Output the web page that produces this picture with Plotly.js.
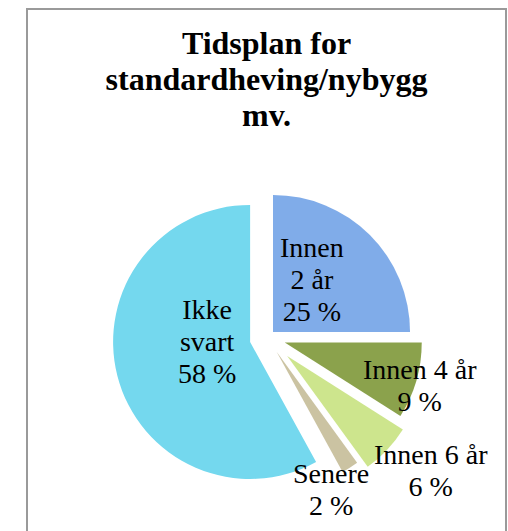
<!DOCTYPE html>
<html>
<head>
<meta charset="utf-8">
<script src="https://cdn.plot.ly/plotly-3.0.1.min.js"></script>
<style>html,body{margin:0;padding:0;background:#fff;}#chart{width:508px;height:531px;}</style>
</head>
<body>
<div id="chart"></div>
<script>
// Data
const categories = ["Innen 2 år", "Innen 4 år", "Innen 6 år", "Senere", "Ikke svart"];
const values = [25, 9, 6, 2, 58];
const labelLines = [["Innen", "2 år"], ["Innen 4 år"], ["Innen 6 år"], ["Senere"], ["Ikke", "svart"]];
const titleLines = ["Tidsplan for", "standardheving/nybygg", "mv."];

// Styles
const colors = ["#80ace9", "#8ba24c", "#cde58d", "#cbc3a2", "#74d8ee"];
const pulls = [0.057, 0.131, 0.197, 0.124, 0.131];
const labelPos = [[312, 279], [420, 385], [431, 470], [331, 489], [207, 341]]; // px centers
const W = 508, H = 531;

const annotations = categories.map((c, i) => {
  const lines = labelLines[i].concat([values[i] + " %"]);
  return {
    xref: "paper", yref: "paper",
    x: labelPos[i][0] / W, y: 1 - labelPos[i][1] / H,
    xanchor: "center", yanchor: "middle",
    showarrow: false, align: "center",
    text: lines.map(l => '<span style="font-size:28px">' + l + '</span>').join("<br>"),
    font: {family: "Liberation Serif, Times New Roman, serif", size: 24.6, color: "#000"}
  };
});

const data = [{
  type: "pie",
  labels: categories,
  values: values,
  sort: false,
  direction: "clockwise",
  rotation: 0,
  pull: pulls,
  marker: {colors: colors, line: {width: 0}},
  textinfo: "none",
  hoverinfo: "label+percent",
  showlegend: false,
  domain: {x: [103.5 / W, 431.5 / W], y: [(193.5 - 164) / H, (193.5 + 164) / H]}
}];

const layout = {
  width: W, height: H,
  margin: {l: 0, r: 0, t: 0, b: 0},
  paper_bgcolor: "#fff",
  title: {
    text: titleLines.map(l => '<span style="font-size:32px">' + l + '</span>').join("<br>"),
    font: {family: "Liberation Serif, Times New Roman, serif", size: 27.5, color: "#000", weight: "bold"},
    x: 266.5 / W, xref: "paper", xanchor: "center",
    y: 1 - 54 / H, yref: "paper", yanchor: "top"
  },
  annotations: annotations,
  shapes: [{
    type: "rect", xref: "paper", yref: "paper",
    x0: 27 / W, x1: 506 / W, y0: -0.2, y1: 1 - 9 / H,
    line: {color: "#9a9a9a", width: 2}, fillcolor: "rgba(0,0,0,0)", layer: "above"
  }]
};

Plotly.newPlot("chart", data, layout, {displayModeBar: false, staticPlot: true});
</script>
</body>
</html>
